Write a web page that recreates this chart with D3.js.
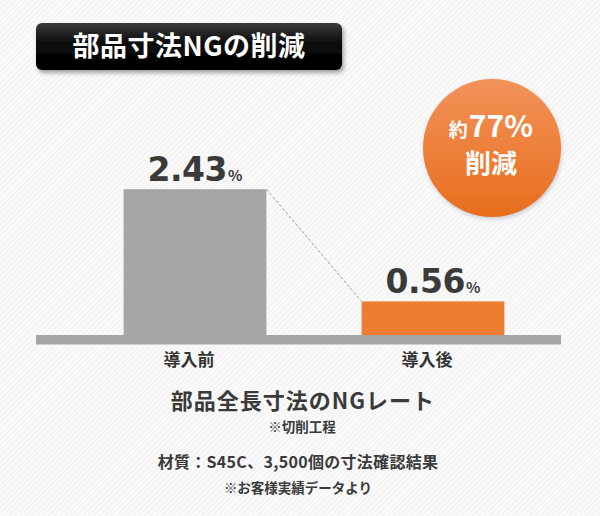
<!DOCTYPE html>
<html><head><meta charset="utf-8">
<script src="https://cdn.jsdelivr.net/npm/d3@7"></script>
<style>
html,body{margin:0;padding:0;background:#f6f6f6;}
svg{display:block;font-family:"Noto Sans CJK JP","Noto Sans",sans-serif;}
</style></head>
<body>
<svg id="c" width="600" height="516"></svg>
<script>
const categories = ["導入前", "導入後"];
const values = [2.43, 0.56];
const valueUnit = "%";
const titleText = "部品寸法NGの削減";
const badgeLine1 = ["約", "77%"];
const badgeLine2 = "削減";
const captionMain = "部品全長寸法のNGレート";
const captionSub = "※切削工程";
const noteMaterial = "材質：S45C、3,500個の寸法確認結果";
const noteSource = "※お客様実績データより";

const svg = d3.select("#c");
const defs = svg.append("defs");

// background stripes
const pat = defs.append("pattern").attr("id","stripes").attr("width",4).attr("height",4)
  .attr("patternUnits","userSpaceOnUse").attr("patternTransform","rotate(-45)");
pat.append("rect").attr("width",4).attr("height",4).attr("fill","#f4f4f4");
pat.append("rect").attr("width",4).attr("height",2).attr("fill","#fbfbfb");
svg.append("rect").attr("width",600).attr("height",516).attr("fill","url(#stripes)");

// title box
const tg = defs.append("linearGradient").attr("id","tg").attr("x1",0).attr("y1",0).attr("x2",0).attr("y2",1);
tg.append("stop").attr("offset","0").attr("stop-color","#3a3a3a");
tg.append("stop").attr("offset","0.45").attr("stop-color","#0a0a0a");
tg.append("stop").attr("offset","1").attr("stop-color","#000");
const sh = defs.append("filter").attr("id","sh").attr("x","-10%").attr("y","-20%").attr("width","130%").attr("height","160%");
sh.append("feDropShadow").attr("dx",2).attr("dy",3).attr("stdDeviation",2).attr("flood-color","#000").attr("flood-opacity",0.35);

svg.append("rect").attr("x",36).attr("y",23).attr("width",306).attr("height",47).attr("rx",6)
  .attr("fill","url(#tg)").attr("filter","url(#sh)");
svg.append("text").attr("x",189).attr("y",56).attr("text-anchor","middle")
  .attr("fill","#fff").attr("font-weight",700).attr("font-size",27).attr("letter-spacing",0.5)
  .text(titleText);

// scales
const x = d3.scaleBand().domain(categories).range([76,552]).paddingInner(0.4).paddingOuter(0.2);
const y = d3.scaleLinear().domain([0,3]).range([335,155]);
const colors = ["#a6a6a6","#ed7d31"];

// bars
svg.selectAll("rect.bar").data(values).join("rect").attr("class","bar")
  .attr("x",(d,i)=>x(categories[i])).attr("width",x.bandwidth())
  .attr("y",d=>y(d)).attr("height",d=>y(0)-y(d)).attr("fill",(d,i)=>colors[i]);

// dashed connector
svg.append("line")
  .attr("x1",x(categories[0])+x.bandwidth()).attr("y1",y(values[0]))
  .attr("x2",x(categories[1])).attr("y2",y(values[1]))
  .attr("stroke","#9a9a9a").attr("stroke-width",1).attr("stroke-dasharray","3,2");

// baseline
svg.append("rect").attr("x",36).attr("y",y(0)).attr("width",525).attr("height",9).attr("fill","#a5a5a5");
svg.append("rect").attr("x",36).attr("y",y(0)+9).attr("width",525).attr("height",1).attr("fill","#d0d0d0");

// value labels
const vl = svg.selectAll("text.val").data(values).join("text").attr("class","val")
  .attr("x",(d,i)=>x(categories[i])+x.bandwidth()/2).attr("y",d=>y(d)-8)
  .attr("text-anchor","middle").attr("fill","#3a3a3a").attr("font-weight",700);
vl.append("tspan").attr("font-size",33).attr("font-family","'DejaVu Sans',sans-serif").attr("letter-spacing",-0.5).text(d=>d.toFixed(2));
vl.append("tspan").attr("font-size",15).attr("dx",1).text(valueUnit);

// category labels
svg.selectAll("text.cat").data(categories).join("text").attr("class","cat")
  .attr("x",d=>x(d)+x.bandwidth()/2-6).attr("y",366)
  .attr("text-anchor","middle").attr("fill","#333").attr("font-weight",700).attr("font-size",17)
  .text(d=>d);

// badge circle
const cg = defs.append("linearGradient").attr("id","cg").attr("x1",0).attr("y1",0).attr("x2",0).attr("y2",1);
cg.append("stop").attr("offset","0").attr("stop-color","#f2935a");
cg.append("stop").attr("offset","1").attr("stop-color","#e86d1c");
const cs = defs.append("filter").attr("id","cs").attr("x","-20%").attr("y","-20%").attr("width","140%").attr("height","140%");
cs.append("feDropShadow").attr("dx",1).attr("dy",2).attr("stdDeviation",2).attr("flood-color","#6a7a8a").attr("flood-opacity",0.35);
svg.append("circle").attr("cx",492).attr("cy",148).attr("r",69).attr("fill","url(#cg)").attr("filter","url(#cs)");
const b1 = svg.append("text").attr("x",491).attr("y",137).attr("text-anchor","middle")
  .attr("fill","#fff").attr("font-weight",700);
b1.append("tspan").attr("font-size",19).text(badgeLine1[0]);
b1.append("tspan").attr("font-size",30).attr("dx",1).text(badgeLine1[1]);
svg.append("text").attr("x",491).attr("y",173).attr("text-anchor","middle")
  .attr("fill","#fff").attr("font-weight",700).attr("font-size",26).text(badgeLine2);

// captions
svg.append("text").attr("x",303).attr("y",409).attr("text-anchor","middle")
  .attr("fill","#3a3a3a").attr("font-weight",700).attr("font-size",22).attr("letter-spacing",1).text(captionMain);
svg.append("text").attr("x",302).attr("y",432).attr("text-anchor","middle")
  .attr("fill","#3a3a3a").attr("font-weight",700).attr("font-size",13.5).text(captionSub);
svg.append("text").attr("x",298).attr("y",468).attr("text-anchor","middle")
  .attr("fill","#3a3a3a").attr("font-weight",700).attr("font-size",16).attr("letter-spacing",0.3).text(noteMaterial);
svg.append("text").attr("x",298).attr("y",493).attr("text-anchor","middle")
  .attr("fill","#3a3a3a").attr("font-weight",700).attr("font-size",13.5).text(noteSource);
</script>
</body></html>
